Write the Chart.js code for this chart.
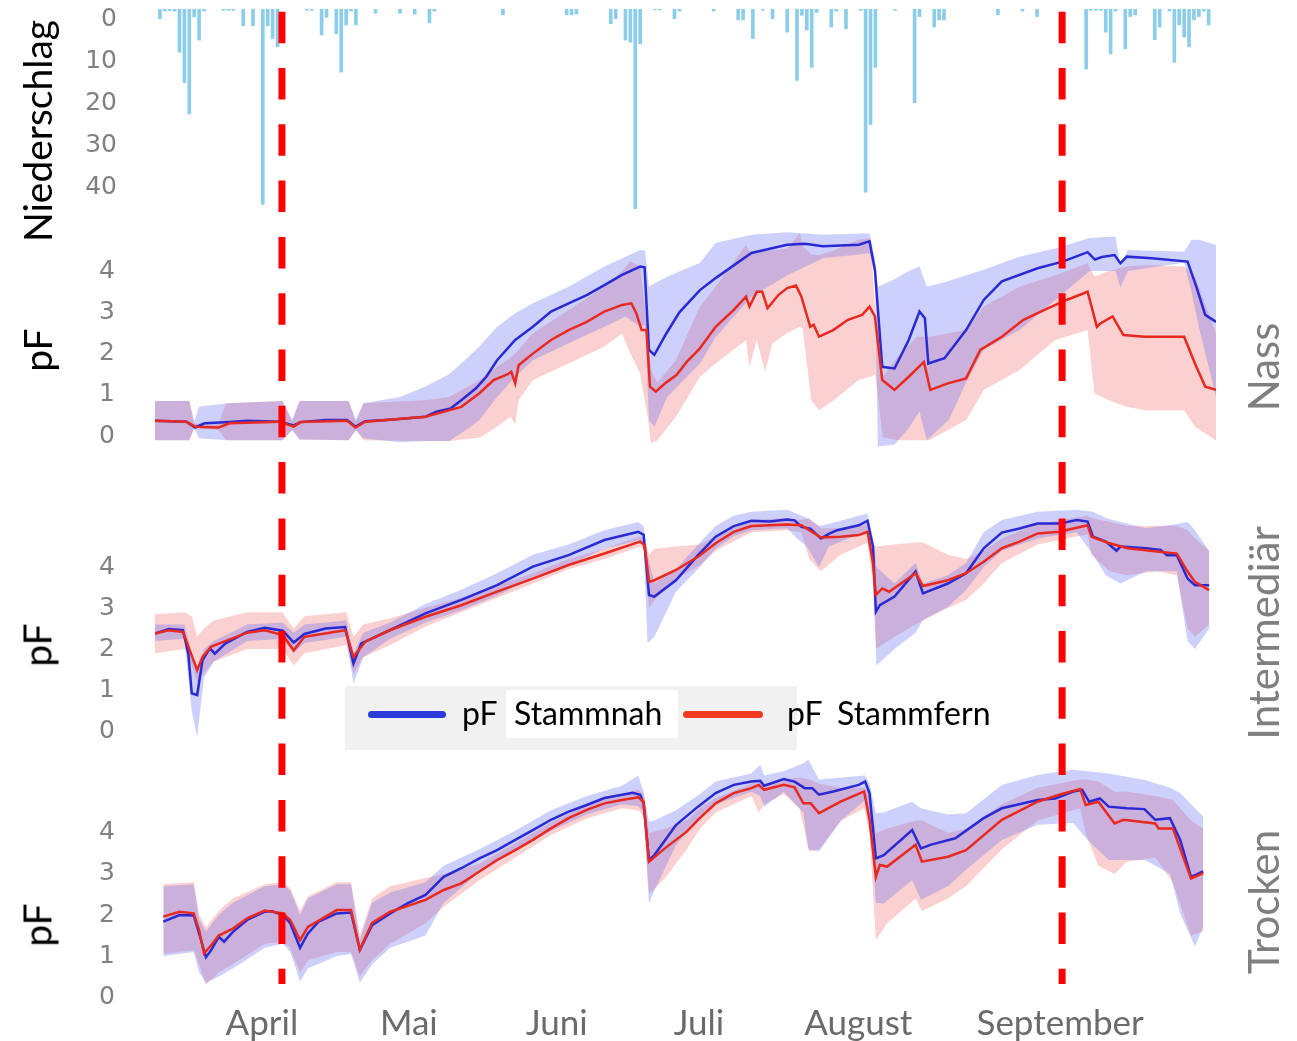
<!DOCTYPE html>
<html lang="de">
<head>
    <meta charset="UTF-8">
    <title>pF Stammnah / Stammfern</title>
    <script src="https://cdn.jsdelivr.net/npm/chart.js"></script>
    <style>
        body {
            margin: 0;
            background: #fff;
        }
        #wrap {
            position: relative;
            width: 1297px;
            height: 1041px;
            overflow: hidden;
            font-family: Lato, sans-serif;
        }
        canvas {
            position: absolute;
            left: 0;
        }
        /* rotated axis / panel titles */
        .vlab {
            position: absolute;
            transform: translate(-50%, -50%) rotate(-90deg);
            white-space: nowrap;
            line-height: 1;
        }
        .left { font-size: 39px; color: #000; }
        .right { font-size: 42px; color: #7f7f7f; }
        /* legend */
        #legendBox {
            position: absolute;
            left: 345px; top: 686px;
            width: 452px; height: 64px;
            background: #f1f1f1;
        }
        .whiteBox {
            position: absolute;
            left: 506px; top: 690px;
            width: 172px; height: 48px;
            background: #fff;
        }
        .sw {
            position: absolute;
            top: 711px;
            height: 7px;
            border-radius: 4px;
        }
        .lt {
            position: absolute;
            top: 697px;
            font-size: 32px;
            line-height: 1;
            color: #000;
            white-space: nowrap;
        }
    </style>
</head>
<body>
<div id="wrap">
    <canvas id="cPrecip" width="1297" height="222" style="top:0px"></canvas>
    <canvas id="cNass" width="1297" height="236" style="top:222px"></canvas>
    <canvas id="cInter" width="1297" height="292" style="top:458px"></canvas>
    <canvas id="cTrocken" width="1297" height="291" style="top:750px"></canvas>

    <div class="vlab left" style="left:37px; top:131px">Niederschlag</div>
    <div class="vlab left" style="left:37px; top:350px">pF</div>
    <div class="vlab left" style="left:37px; top:645px">pF</div>
    <div class="vlab left" style="left:37px; top:925px">pF</div>

    <div class="vlab right" style="left:1263px; top:367px">Nass</div>
    <div class="vlab right" style="left:1263px; top:633px">Intermediär</div>
    <div class="vlab right" style="left:1263px; top:902px">Trocken</div>

    <div id="legendBox"></div>
    <div class="whiteBox"></div>
    <span class="sw" style="left:368px; width:78px; background:#2b3cd8"></span>
    <span class="lt" style="left:462px">pF</span>
    <span class="lt" style="left:514px">Stammnah</span>
    <span class="sw" style="left:683px; width:80px; background:#f03a22"></span>
    <span class="lt" style="left:787px">pF</span>
    <span class="lt" style="left:837px">Stammfern</span>
</div>

<script>
// x axis = days from start of record (~10 March)
const monthNames = ['April', 'Mai', 'Juni', 'Juli', 'August', 'September'];
const monthDays = [21.8, 51.8, 82, 111, 143.5, 184.7];
const markerDays = [25.9, 185.1];
const precipTicks = [0, 10, 20, 30, 40];
const pfTicks = [0, 1, 2, 3, 4];

// Niederschlag (mm per day)
const precipDays = [1, 2, 3, 4, 5, 6, 7, 8, 9, 10, 14, 15, 16, 18, 20, 22, 23, 24, 25, 31, 32, 34, 35, 37, 38, 39, 40, 41, 45, 50,
    53, 56, 57, 71, 84, 85, 86, 93, 94, 96, 97, 98, 99, 102, 103, 106, 107, 114, 119, 120, 122, 124, 126, 129, 131, 132, 133, 134, 135,
    138, 139, 141, 144, 145, 146, 147, 151, 155, 156, 159, 160, 161, 172, 177, 180, 190, 191, 192, 193, 194, 195, 196, 198, 199, 200,
    204, 205, 207, 208, 209, 210, 211, 212, 213, 214, 215];
const precipMm = [2.3, 0.5, 0.4, 0.5, 10.3, 17.5, 25, 1.9, 7.4, 0.5, 0.3, 0.3, 0.3, 4, 4, 46.5, 4, 7, 9, 0.3, 0.3, 6.2, 2, 5.9, 15, 3.8, 0.5, 3.8, 1, 1,
    1.2, 3.3, 0.5, 1.4, 1.4, 1.4, 1.2, 3.5, 2.3, 7.4, 7.9, 47.5, 8.3, 0.2, 0.2, 2.3, 0.5, 0.5, 2.6, 2.6, 7, 0.3, 2.3, 5.5, 17, 1.5, 5, 13.9, 0.8,
    4.3, 0.5, 4.7, 0.3, 43.6, 27.5, 13.9, 0.3, 22.3, 1.8, 4.3, 2.6, 2.6, 1.4, 0.5, 1.8, 14.3, 0.3, 0.3, 0.3, 5.5, 10.7, 0.5, 9.5, 1.8, 1.4,
    7.3, 4.3, 0.5, 12.7, 3.8, 6.7, 9, 2.6, 1.8, 0.5, 3.8];

// ---- Nass: [day, pF] lines, [day, low, high] bands
const nassBlue = [[0,0.37],[6.4,0.35],[8.2,0.21],[10.1,0.31],[15.2,0.34],[18.8,0.37],[25.4,0.35],[28.3,0.26],[29.7,0.34],[34.8,0.39],
    [39.2,0.39],[40.9,0.23],[42.9,0.36],[48,0.4],[55.2,0.47],[57.4,0.59],[60.3,0.67],[62.5,0.87],[65.5,1.16],[67.6,1.44],[69.8,1.84],
    [73.5,2.33],[77.1,2.65],[80.8,3.02],[84.4,3.22],[88.1,3.42],[91.7,3.66],[95.3,3.91],[99,4.11],[99.9,4.09],[100.8,2.09],[101.9,1.97],
    [104.4,2.5],[107,3.0],[111.2,3.54],[114.4,3.83],[121.7,4.44],[129,4.64],[132.6,4.66],[136.3,4.6],[139.9,4.62],[143.6,4.64],[145.8,4.72],
    [146.9,4.03],[148.4,1.68],[150.9,1.64],[153.8,2.33],[156,3.02],[157.1,2.86],[157.8,1.76],[161.1,1.89],[165.5,2.57],[169.1,3.3],
    [172.8,3.75],[180.1,4.07],[185.2,4.23],[190.3,4.46],[191.8,4.28],[193.2,4.34],[195.8,4.39],[197,4.19],[198.3,4.35],[203.4,4.31],
    [210.7,4.23],[212.5,3.62],[214.3,2.94],[216.5,2.77]];
const nassRed = [[0,0.37],[6.4,0.35],[8.2,0.23],[13,0.21],[15.2,0.31],[25.4,0.35],[28.3,0.23],[29.7,0.34],[39.2,0.37],[40.9,0.21],
    [42.9,0.35],[55.2,0.47],[62.5,0.71],[66.2,1.04],[69.1,1.36],[72,1.5],[72.7,1.56],[73.5,1.28],[74.2,1.72],[77.1,2.0],[80.8,2.33],
    [84.4,2.57],[88.1,2.77],[91.7,3.02],[95.3,3.18],[97.2,3.22],[98.2,2.98],[99.3,2.57],[100.3,2.57],[101,1.2],[102.2,1.08],[104.1,1.28],
    [106.4,1.48],[108.5,1.8],[111,2.1],[114.4,2.65],[118.1,3.06],[120.6,3.38],[121.3,3.14],[122.8,3.5],[123.9,3.5],[125,3.1],[127.2,3.42],
    [129,3.59],[130.8,3.65],[131.9,3.38],[133.7,2.65],[134.4,2.7],[135.5,2.41],[138.4,2.57],[141.4,2.82],[144.3,2.94],[145.8,3.14],
    [146.9,2.9],[148.4,1.36],[150.9,1.12],[153.8,1.44],[156.9,1.8],[158.2,1.12],[161.8,1.28],[165.5,1.4],[168.4,2.09],[172.8,2.41],
    [177.2,2.82],[181.5,3.06],[186,3.3],[190.3,3.5],[192.2,2.65],[192.9,2.73],[195.4,2.9],[197.6,2.45],[202,2.41],[210,2.41],
    [212.2,1.76],[214.3,1.2],[216.5,1.12]];
const nassBlueBand = [[0,-0.1,0.85],[7,-0.1,0.85],[8,0.2,0.35],[9,-0.05,0.72],[15,-0.1,0.8],[26,-0.1,0.85],[28,0.15,0.4],[29.5,-0.08,0.85],
    [39.5,-0.1,0.85],[41,0.15,0.4],[42.5,-0.05,0.8],[50,-0.15,0.95],[55.2,-0.12,1.2],[60,-0.12,1.5],[62.5,0.07,1.76],[66.2,0.39,2.17],
    [69.8,0.95,2.65],[73.5,1.44,2.98],[77.1,1.84,3.22],[84.4,2.25,3.62],[91.7,2.65,4.11],[96,2.9,4.35],[99,2.65,4.51],[100,2.7,4.5],
    [100.8,0.39,3.62],[101.9,0.23,3.7],[104.5,0.95,3.86],[111.2,1.76,4.2],[114.4,2.4,4.68],[121.7,3.38,4.88],[129,3.9,4.94],
    [136.3,4.31,4.88],[145.8,4.43,4.92],[146.9,3.9,4.3],[147.5,-0.25,3.62],[150.9,-0.2,3.8],[153.8,0.2,4.0],[156,0.6,4.11],
    [157.5,-0.1,3.62],[162,0.4,3.76],[165.5,1.3,3.9],[169.1,2.1,4.03],[176.4,2.57,4.35],[183.7,3.3,4.55],[190.7,4.0,4.8],[196,4.0,4.84],
    [197,3.6,4.11],[198.5,4.0,4.51],[210,4.2,4.47],[211.5,3.5,4.76],[213,2.65,4.76],[216.5,0.95,4.64]];
const nassRedBand = [[0,-0.1,0.85],[7,-0.1,0.85],[8,0.2,0.3],[13,0.15,0.3],[14.5,-0.1,0.8],[26,-0.1,0.85],[28,0.15,0.35],[29.5,-0.08,0.85],
    [39.5,-0.1,0.85],[41,0.15,0.35],[42.5,-0.1,0.8],[55.2,-0.12,0.87],[60,-0.12,0.95],[66.2,-0.04,1.35],[69.8,0.23,1.68],[72.5,0.47,1.9],
    [73.5,0.3,2.0],[74.2,0.87,2.1],[77.1,1.36,2.49],[84.4,1.76,3.06],[91.7,2.17,3.62],[95.3,2.49,4.0],[97,2.0,4.23],[99,1.52,4.11],
    [100.5,0.5,2.57],[101.2,-0.17,1.6],[102.5,-0.1,1.3],[106.3,0.47,1.84],[111.2,1.44,3.14],[114.4,1.76,3.62],[120.6,2.33,4.64],
    [121.3,1.68,4.47],[122.8,2.33,4.5],[124.5,1.56,4.5],[126,2.25,4.5],[129,2.5,4.55],[131.6,2.65,4.92],[132.2,2.6,4.6],[133.9,0.87,4.4],
    [135.5,0.63,4.39],[138.5,0.87,4.5],[143.6,1.36,4.76],[146,1.44,4.8],[147,1.5,2.98],[148.5,-0.02,1.44],[151.5,-0.1,1.92],
    [155.5,-0.1,2.41],[158,-0.1,2.41],[165.5,0.39,2.57],[169.1,1.12,3.14],[176.4,1.6,3.62],[183.7,2.33,3.9],[190.3,2.57,4.19],
    [191.7,1.04,3.87],[194.6,0.87,4.0],[198.3,0.71,4.11],[202,0.63,4.15],[210,0.63,4.11],[212.2,0.23,3.87],[216.5,-0.1,2.49]];

// ---- Intermediär
const interBlue = [[0,2.38],[2.8,2.49],[5.7,2.46],[6.8,1.89],[7.5,0.92],[8.6,0.88],[9.7,1.73],[11.2,2.02],[12.2,1.89],[14.4,2.14],
    [18.8,2.42],[22.4,2.52],[26.1,2.45],[28.3,2.16],[30.5,2.37],[34.8,2.5],[38.8,2.54],[40.5,1.65],[42.1,2.14],[47.9,2.46],[55.2,2.87],
    [62.5,3.2],[69.8,3.56],[77.1,4.01],[84.4,4.29],[91.7,4.66],[98.6,4.86],[99.7,4.79],[100.8,3.32],[101.9,3.28],[106.3,3.68],
    [110.8,4.29],[114.4,4.74],[118.1,5.0],[121.7,5.13],[125.4,5.11],[129,5.16],[130.5,5.14],[131.9,4.98],[133.7,4.94],[135.9,4.7],
    [137.7,4.82],[139.2,4.9],[143.6,5.02],[145.4,5.13],[146.5,4.5],[147.1,2.91],[147.9,3.07],[150.9,3.28],[155.2,3.89],[156.7,3.36],
    [161.8,3.6],[165.5,3.85],[169.1,4.46],[172.8,4.84],[176.4,4.94],[180.1,5.06],[184.5,5.06],[188.1,5.15],[190.3,5.11],[191.4,4.74],
    [194,4.62],[196.2,4.4],[197,4.5],[202.2,4.46],[205.2,4.42],[206.5,4.29],[208.5,4.29],[210.7,3.72],[212.2,3.56],[215.1,3.56]];
const interRed = [[0,2.38],[2.8,2.46],[5.7,2.42],[7.1,1.97],[8.6,1.49],[9.7,1.81],[11.5,2.06],[18.8,2.4],[22.4,2.46],[26.1,2.34],
    [28.3,1.97],[30.5,2.3],[38.8,2.46],[40.5,1.81],[42.9,2.18],[47.9,2.46],[55.2,2.79],[62.5,3.07],[69.8,3.4],[77.1,3.72],[84.4,4.05],
    [91.7,4.33],[99,4.62],[99.9,4.54],[100.8,3.64],[101.9,3.68],[106.3,3.93],[110.8,4.25],[114.4,4.58],[118.1,4.86],[121.7,5.0],
    [125.4,5.02],[129,5.04],[131.9,5.02],[135.9,4.72],[139.9,4.74],[143.6,4.78],[145.4,4.86],[146.5,4.09],[147.1,3.32],[148.4,3.48],
    [149.8,3.4],[155.2,3.85],[156.7,3.54],[161.8,3.68],[165.5,3.85],[169.1,4.13],[172.8,4.46],[176.4,4.62],[180.1,4.82],[184.5,4.86],
    [190.3,5.02],[191.1,4.74],[194.8,4.58],[198.4,4.46],[204.5,4.38],[208.5,4.33],[210.7,3.89],[212.2,3.64],[215.1,3.44]];
const interBlueBand = [[0,2.2,2.6],[6,2.25,2.6],[7.5,0.5,1.9],[8.6,-0.14,1.5],[10,1.3,2.0],[12,1.7,2.2],[18.8,2.2,2.6],[26,2.25,2.65],
    [28.3,1.9,2.4],[30.5,2.15,2.6],[39,2.3,2.7],[40.5,1.16,1.9],[42.5,1.8,2.4],[48,2.25,2.65],[55.2,2.65,3.1],[62.5,2.95,3.45],
    [69.8,3.3,3.85],[77.1,3.75,4.3],[84.4,4.05,4.55],[91.7,4.45,4.9],[98.6,4.65,5.1],[99.7,4.5,5.0],[100.5,2.14,4.3],[101.9,2.3,3.6],
    [106.3,3.4,3.95],[111.2,4.0,4.6],[114.4,4.45,5.0],[118.1,4.75,5.25],[121.7,4.9,5.35],[129,4.95,5.4],[131,4.7,5.3],[133,4.5,5.2],
    [135.5,4.0,5.0],[137.5,4.5,5.05],[143.6,4.8,5.25],[145.4,4.9,5.3],[146.7,4.0,4.6],[147.2,1.6,4.0],[150.9,2.0,3.6],[155.2,2.4,4.1],
    [156.7,2.71,3.6],[161.8,3.03,3.8],[165.5,3.44,4.1],[169.1,4.0,4.85],[172.8,4.4,5.15],[180.1,4.7,5.35],[188.1,4.85,5.4],
    [191.4,4.3,5.35],[194,3.8,5.2],[197,3.6,5.1],[202.2,3.9,4.95],[208.5,3.9,5.05],[210.7,2.2,5.1],[212.2,2.0,4.9],[215.1,2.5,4.4]];
const interRedBand = [[0,1.9,2.85],[6,2.0,2.9],[7.5,1.6,2.8],[8.6,1.2,2.3],[10,1.4,2.5],[12,1.7,2.7],[18.8,2.0,2.9],[26,2.0,2.9],
    [28.3,1.6,2.5],[30.5,1.9,2.8],[39,2.1,2.9],[40.5,1.4,2.3],[42.5,1.8,2.6],[48,2.1,2.75],[55.2,2.55,3.0],[62.5,2.9,3.25],
    [69.8,3.25,3.55],[77.1,3.6,3.85],[84.4,3.95,4.2],[91.7,4.2,4.45],[99,4.5,4.75],[99.9,4.4,4.7],[100.8,3.0,4.3],[101.9,3.2,4.45],
    [106.3,3.7,4.5],[111.2,4.05,4.55],[114.4,4.4,4.75],[121.7,4.85,5.15],[129,4.9,5.2],[131.9,4.85,5.15],[133.5,4.2,5.2],
    [135.9,3.9,4.95],[139.9,4.3,4.95],[145.4,4.6,5.05],[146.5,3.6,4.6],[147.1,2.0,4.5],[150.9,2.3,4.55],[155.2,2.6,4.6],[156.7,2.7,4.6],
    [161.8,3.0,4.3],[165.5,3.2,4.2],[169.1,3.6,4.4],[172.8,4.1,4.7],[180.1,4.55,5.05],[190.3,4.8,5.25],[191.1,4.3,5.2],[194.8,3.9,5.1],
    [198.4,3.8,5.0],[204.5,3.9,5.0],[208.5,3.8,5.0],[210.7,2.5,4.9],[212.2,2.3,4.7],[215.1,2.6,4.4]];

// ---- Trocken
const trockenBlue = [[1.7,1.84],[5,2.0],[7.9,1.99],[9,1.55],[10.4,0.97],[11.5,1.15],[13,1.47],[14.1,1.35],[15.9,1.59],[18.8,1.88],
    [22.4,2.08],[23.9,2.09],[26.1,2.0],[27.6,1.8],[29.6,1.2],[31.2,1.55],[33.4,1.84],[37.1,2.04],[40,2.06],[41.8,1.15],[44.3,1.75],
    [48,2.04],[51.6,2.29],[55.2,2.49],[58.9,2.93],[62.5,3.14],[66.2,3.38],[69.8,3.58],[73.5,3.83],[77.1,4.07],[80.8,4.32],[84.4,4.52],
    [88.1,4.68],[91.7,4.85],[95.3,4.93],[97.5,4.98],[99,4.93],[99.7,4.72],[100.8,3.34],[101.9,3.46],[106.3,4.19],[110.8,4.64],
    [114.4,4.97],[118.1,5.17],[121.7,5.25],[123.5,5.27],[124.3,5.15],[128.3,5.31],[130.5,5.25],[132.6,5.09],[134.1,5.09],[135.5,4.93],
    [138.4,5.01],[143.6,5.17],[144.9,5.25],[145.8,4.97],[147.1,3.38],[148.7,3.46],[154.5,4.07],[156.3,3.62],[158.2,3.71],[163.3,3.87],
    [169.1,4.36],[172.8,4.6],[180.1,4.8],[183.7,4.84],[187.4,5.01],[189.2,5.05],[190.6,4.76],[192.8,4.84],[194.6,4.64],[198.3,4.6],
    [201.9,4.58],[204.1,4.32],[207.1,4.36],[209.2,3.83],[211.4,2.93],[213.9,3.06]];
const trockenRed = [[1.7,1.96],[5,2.08],[7.9,2.04],[9,1.63],[10,1.06],[11.5,1.27],[13,1.5],[15.9,1.67],[18.8,1.92],[22.4,2.11],
    [26.1,2.04],[27.6,1.88],[29.6,1.39],[31.2,1.71],[37.1,2.12],[40,2.12],[41.8,1.16],[44.3,1.81],[48,2.08],[55.2,2.37],[58.9,2.61],
    [62.5,2.77],[66.2,3.06],[69.8,3.34],[73.5,3.58],[77.1,3.83],[80.8,4.11],[84.4,4.36],[88.1,4.56],[91.7,4.72],[95.3,4.8],[98.6,4.87],
    [99.7,4.76],[100.8,3.3],[104.1,3.63],[108.5,4.03],[110.8,4.32],[114.4,4.72],[118.1,4.97],[121.7,5.09],[123.2,5.17],[124.3,5.05],
    [128.3,5.17],[130.5,5.11],[132.3,4.72],[133.8,4.72],[135.5,4.48],[139.9,4.76],[144.7,5.01],[145.8,4.32],[147.1,2.93],[147.9,3.22],
    [149.4,3.18],[155.2,3.71],[156.5,3.3],[161.8,3.42],[165.5,3.58],[172.8,4.32],[180.1,4.76],[184.5,4.93],[188.8,5.07],[189.9,4.68],
    [192.5,4.76],[195.8,4.23],[197.6,4.32],[204.1,4.23],[204.8,4.11],[207.7,4.11],[211.4,2.89],[213.9,3.02]];
const trockenBlueBand = [[1.7,1.0,2.7],[7.9,1.1,2.75],[9,0.6,1.9],[10.4,0.35,1.6],[13,0.5,2.0],[15.9,0.7,2.3],[22.4,1.2,2.7],
    [26.1,1.3,2.75],[27.6,1.1,2.6],[29.6,0.38,2.0],[31.2,0.7,2.4],[37.1,1.0,2.75],[40,1.05,2.75],[41.8,0.35,1.4],[44.3,0.8,2.3],
    [48,1.2,2.55],[55.2,1.5,2.8],[58.9,2.3,3.2],[66.2,3.05,3.6],[73.5,3.55,4.05],[80.8,4.05,4.55],[88.1,4.45,4.9],[95.3,4.7,5.15],
    [98.6,4.65,5.4],[99.7,4.5,5.0],[100.8,2.28,4.27],[101.9,2.6,4.3],[106.3,3.7,4.55],[111.2,4.4,4.95],[114.4,4.7,5.25],[121.7,5.0,5.45],
    [123.5,4.9,5.66],[124.3,4.64,5.4],[128.3,5.0,5.5],[132.3,4.5,5.7],[133.3,3.6,5.78],[135.5,3.55,5.3],[140,4.3,5.35],[144.9,4.8,5.4],
    [145.8,4.4,5.2],[147.1,2.3,4.48],[148.7,2.28,4.5],[154.5,2.85,4.76],[156.3,2.37,4.6],[161.8,2.7,4.45],[165.5,3.1,4.48],
    [172.8,3.83,5.17],[180.1,4.2,5.41],[187.4,4.24,5.54],[190.3,3.83,5.5],[194.6,3.34,5.45],[202,3.34,5.29],[207.1,3.0,5.1],
    [209.2,2.04,4.97],[212.2,1.23,4.6],[213.9,1.72,4.4]];
const trockenRedBand = [[1.7,1.05,2.75],[7.9,1.15,2.8],[9,0.8,2.0],[10.4,0.3,1.7],[13,0.6,2.1],[15.9,0.8,2.4],[22.4,1.3,2.75],
    [26.1,1.35,2.8],[27.6,1.2,2.65],[29.6,0.6,2.1],[31.2,0.9,2.45],[37.1,1.1,2.8],[40,1.1,2.8],[41.8,0.5,1.5],[44.3,0.9,2.4],
    [48,1.3,2.7],[55.2,1.8,2.9],[58.9,2.2,3.0],[66.2,2.85,3.25],[73.5,3.4,3.75],[80.8,3.95,4.25],[88.1,4.35,4.7],[95.3,4.6,4.95],
    [98.6,4.55,5.05],[99.7,4.4,4.95],[100.8,2.5,4.0],[104.1,2.9,4.1],[108.5,3.6,4.3],[111.2,4.1,4.6],[114.4,4.5,4.85],[121.7,4.9,5.2],
    [123.2,4.5,5.3],[124.3,4.7,5.2],[128.3,4.95,5.3],[131.5,4.6,5.35],[133.5,3.55,5.3],[135.5,3.6,5.2],[140,4.3,5.1],[144.7,4.6,5.1],
    [145.8,4.0,5.0],[147.1,1.39,4.0],[149.4,1.8,4.1],[155.2,2.4,4.3],[156.5,2.1,4.3],[161.8,2.4,4.0],[165.5,2.7,4.1],[172.8,3.6,4.7],
    [180.1,4.3,5.1],[188.8,4.6,5.3],[189.9,4.0,5.3],[192.5,3.2,5.25],[195.8,3.0,5.0],[198.3,3.3,5.0],[204.1,3.4,4.9],[207.7,2.8,4.8],
    [211.4,1.5,4.3],[213.9,1.6,4.1]];

// ---------------------------------------------------------------

// red dashed marker lines, continuous across the stacked canvases
const dashPlugin = {
    id: 'dashes',
    afterDatasetsDraw(chart, args, opts) {
        const ctx = chart.ctx;
        const xs = chart.scales.x;
        const top = opts.top;
        const y0 = Math.max(0, 10 - top);
        const y1 = Math.min(chart.height, 984 - top);
        if (y1 <= y0) return;
        ctx.save();
        ctx.strokeStyle = '#ff0000';
        ctx.lineWidth = 7;
        ctx.setLineDash([31.5, 24.8]);
        ctx.lineDashOffset = (top + y0) - 11.7;
        markerDays.forEach(d => {
            const px = xs.getPixelForValue(d);
            ctx.beginPath();
            ctx.moveTo(px, y0);
            ctx.lineTo(px, y1);
            ctx.stroke();
        });
        ctx.restore();
    }
};

function xScale(showLabels) {
    const s = {
        type: 'linear',
        min: 0,
        max: 216.5,
        offset: false,
        display: showLabels,
        grid: { display: false, drawTicks: false },
        border: { display: false },
        afterBuildTicks: sc => { sc.ticks = monthDays.map(v => ({ value: v })); },
        ticks: {
            autoSkip: false,
            maxRotation: 0,
            padding: 3,
            color: '#6b6b6b',
            font: { family: 'Lato', size: 35 },
            callback: (v, i) => monthNames[i]
        }
    };
    if (showLabels) s.afterFit = sc => { sc.height = 41; sc.paddingLeft = 0; sc.paddingRight = 0; };
    return s;
}

function yScale(min, max, ticks, extra) {
    return Object.assign({
        min: min,
        max: max,
        grid: { display: false, drawTicks: false },
        border: { display: false },
        afterBuildTicks: sc => { sc.ticks = ticks.map(v => ({ value: v })); },
        ticks: { color: '#808080', font: { family: 'DejaVu Sans', size: 25 }, padding: 40 },
        // fixed axis width, and no extra label padding above/below the plot
        afterFit: sc => { sc.width = 155; sc.paddingTop = 0; sc.paddingBottom = 0; }
    }, extra || {});
}

function baseOptions(top, padTop, yOpts, showX) {
    return {
        responsive: false,
        animation: false,
        events: [],
        devicePixelRatio: 1,
        layout: { padding: { left: 0, right: 81, top: padTop, bottom: 0 } },
        scales: { x: xScale(showX), y: yOpts },
        plugins: {
            legend: { display: false },
            tooltip: { enabled: false },
            dashes: { top: top }
        }
    };
}

const pts = (arr, k) => arr.map(p => ({ x: p[0], y: p[k || 1] }));

function pfDatasets(blue, red, blueBand, redBand) {
    const edge = { borderWidth: 0, borderColor: 'transparent', pointRadius: 0, order: 2 };
    return [
        Object.assign({ data: pts(blueBand, 1), fill: false }, edge),
        Object.assign({ data: pts(blueBand, 2), fill: '-1', backgroundColor: 'rgba(100,110,240,0.32)' }, edge),
        Object.assign({ data: pts(redBand, 1), fill: false }, edge),
        Object.assign({ data: pts(redBand, 2), fill: '-1', backgroundColor: 'rgba(240,110,110,0.32)' }, edge),
        { label: 'pF Stammnah', data: pts(blue), borderColor: '#2a2ad4', borderWidth: 2.5, pointRadius: 0, fill: false, order: 1 },
        { label: 'pF Stammfern', data: pts(red), borderColor: '#e8291f', borderWidth: 2.5, pointRadius: 0, fill: false, order: 0 }
    ];
}

// Niederschlag
new Chart(document.getElementById('cPrecip'), {
    type: 'bar',
    data: {
        datasets: [{
            label: 'Niederschlag',
            data: precipDays.map((d, i) => ({ x: d, y: precipMm[i] })),
            backgroundColor: '#8ccde9',
            barThickness: 3
        }]
    },
    options: baseOptions(0, 9, yScale(0, 50.7, precipTicks, { reverse: true, ticks: {
        color: '#808080', font: { family: 'DejaVu Sans', size: 25 }, padding: 38, labelOffset: 10 } }), false),
    plugins: [dashPlugin]
});

// Nass
new Chart(document.getElementById('cNass'), {
    type: 'line',
    data: { datasets: pfDatasets(nassBlue, nassRed, nassBlueBand, nassRedBand) },
    options: baseOptions(222, 0, yScale(-0.53, 5.19, pfTicks), false),
    plugins: [dashPlugin]
});

// Intermediär
new Chart(document.getElementById('cInter'), {
    type: 'line',
    data: { datasets: pfDatasets(interBlue, interRed, interBlueBand, interRedBand) },
    options: baseOptions(458, 0, yScale(-0.46, 6.66, pfTicks), false),
    plugins: [dashPlugin]
});

// Trocken (carries the month axis)
new Chart(document.getElementById('cTrocken'), {
    type: 'line',
    data: { datasets: pfDatasets(trockenBlue, trockenRed, trockenBlueBand, trockenRedBand) },
    options: baseOptions(750, 0, yScale(-0.07, 6.02, pfTicks), true),
    plugins: [dashPlugin]
});
</script>
</body>
</html>
